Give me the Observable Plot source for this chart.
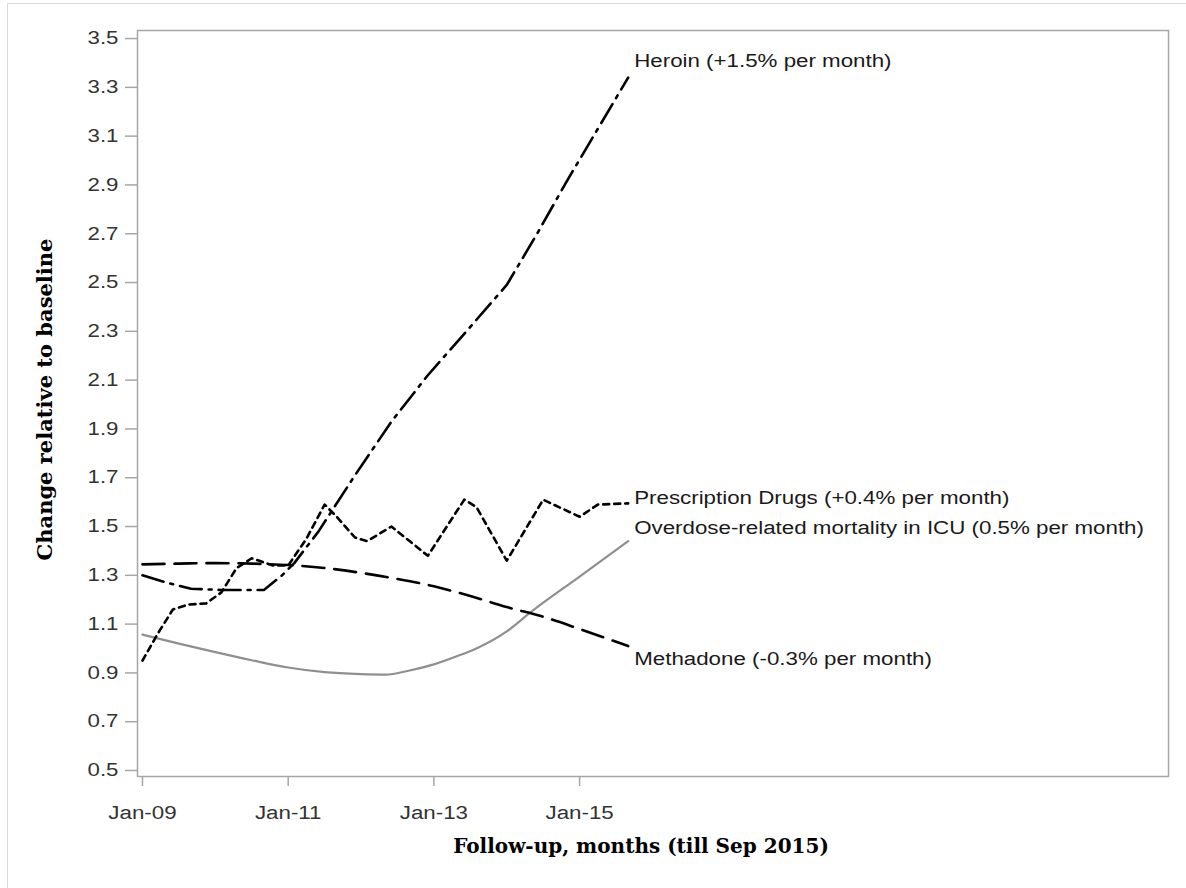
<!DOCTYPE html>
<html><head><meta charset="utf-8">
<script src="https://cdn.jsdelivr.net/npm/d3@7"></script>
<script src="https://cdn.jsdelivr.net/npm/@observablehq/plot@0.6"></script>
<style>
body{margin:0;background:#fff;}
#wrap{position:relative;width:1186px;height:888px;overflow:hidden;background:#fff}
#border{position:absolute;left:7px;top:3px;right:-2px;bottom:-2px;border-left:1px solid #d9d9d9;border-top:1px solid #d9d9d9;pointer-events:none}
#chart{position:absolute;left:0;top:0}
</style></head><body><div id="wrap"><div id="chart"></div><div id="border"></div></div>
<script>
// Months since Jan 2009
const tickMonths = [0, 24, 48, 72];
const tickLabels = ["Jan-09", "Jan-11", "Jan-13", "Jan-15"];
const yTicks = [0.5, 0.7, 0.9, 1.1, 1.3, 1.5, 1.7, 1.9, 2.1, 2.3, 2.5, 2.7, 2.9, 3.1, 3.3, 3.5];

const heroinMonths = [0, 4, 8, 13, 20, 23, 25, 29, 35, 41, 47, 53, 60, 65, 70, 75, 80];
const heroinValues = [1.30, 1.27, 1.245, 1.24, 1.24, 1.30, 1.35, 1.48, 1.71, 1.93, 2.12, 2.29, 2.49, 2.70, 2.92, 3.13, 3.34];

const rxMonths = [0, 2.5, 5, 7.5, 10.5, 13, 15.5, 18, 21.5, 24, 27, 30, 32, 35, 37, 41, 47, 53, 55, 60, 66, 72, 75, 80];
const rxValues = [0.95, 1.06, 1.16, 1.18, 1.185, 1.23, 1.33, 1.37, 1.34, 1.34, 1.45, 1.59, 1.54, 1.455, 1.44, 1.50, 1.38, 1.61, 1.58, 1.36, 1.61, 1.54, 1.59, 1.595];

const icuMonths = [0, 6, 12, 18, 24, 30, 36, 40, 44, 48, 52, 55, 60, 64, 72, 80];
const icuValues = [1.057, 1.02, 0.985, 0.952, 0.922, 0.903, 0.895, 0.893, 0.91, 0.935, 0.97, 1.00, 1.07, 1.15, 1.295, 1.44];

const methMonths = [0, 6, 12, 18, 24, 30, 36, 42, 48, 54, 60, 66, 72, 80];
const methValues = [1.345, 1.348, 1.35, 1.348, 1.342, 1.33, 1.31, 1.285, 1.255, 1.215, 1.17, 1.13, 1.08, 1.01];

const seriesLabels = {
  heroin: "Heroin (+1.5% per month)",
  rx: "Prescription Drugs (+0.4% per month)",
  icu: "Overdose-related mortality in ICU (0.5% per month)",
  meth: "Methadone (-0.3% per month)"
};
const xTitle = "Follow-up, months (till Sep 2015)";
const yTitle = "Change relative to baseline";

const toRows = (ms, vs) => ms.map((m, i) => ({month: m, value: vs[i]}));
const heroin = toRows(heroinMonths, heroinValues);
const rx = toRows(rxMonths, rxValues);
const icu = toRows(icuMonths, icuValues);
const meth = toRows(methMonths, methValues);
const lastOf = (rows, key) => [{...rows[rows.length - 1], label: seriesLabels[key]}];

const sans = "'Liberation Sans', Arial, sans-serif";
const serif = "'DejaVu Serif', serif";
const labelOpts = (dy) => ({x: "month", y: "value", text: "label", textAnchor: "start", dx: 6, dy, fill: "#1a1a1a", fontSize: 18, fontFamily: sans});

const chart = Plot.plot({
  width: 1186, height: 888,
  marginLeft: 137, marginRight: 18, marginTop: 30, marginBottom: 112,
  style: {fontFamily: sans, fontSize: "18px", background: "transparent", color: "#333"},
  x: {type: "linear", domain: [-0.82, 169]},
  y: {domain: [0.4754, 3.533]},
  marks: [
    Plot.frame({stroke: "#a6a6a6", strokeWidth: 1.5}),
    Plot.axisX({ticks: tickMonths, tickFormat: d => tickLabels[tickMonths.indexOf(d)], tickSize: 10, tickPadding: 20, stroke: "#a6a6a6", strokeWidth: 1.5, fill: "#333", label: null, fontSize: 18}),
    Plot.axisY({ticks: yTicks, tickFormat: d => d.toFixed(1), tickSize: 12, tickPadding: 7, stroke: "#a6a6a6", strokeWidth: 1.5, fill: "#333", label: null, fontSize: 18}),
    Plot.line(icu, {x: "month", y: "value", stroke: "#8f8f8f", strokeWidth: 2.2, curve: "monotone-x"}),
    Plot.line(meth, {x: "month", y: "value", stroke: "#000", strokeWidth: 2.6, strokeDasharray: "22,10", curve: "monotone-x"}),
    Plot.line(rx, {x: "month", y: "value", stroke: "#000", strokeWidth: 2.6, strokeDasharray: "6,5"}),
    Plot.line(heroin, {x: "month", y: "value", stroke: "#000", strokeWidth: 2.6, strokeDasharray: "22,7,3,7"}),
    Plot.text(lastOf(heroin, "heroin"), labelOpts(-16)),
    Plot.text(lastOf(rx, "rx"), labelOpts(-5)),
    Plot.text(lastOf(icu, "icu"), labelOpts(-13)),
    Plot.text(lastOf(meth, "meth"), labelOpts(13)),
    Plot.text([xTitle], {frameAnchor: "bottom", textAnchor: "middle", lineAnchor: "middle", dy: 70, dx: -12, fontFamily: serif, fontWeight: "bold", fontSize: 20, fill: "#000"}),
    Plot.text([yTitle], {frameAnchor: "left", textAnchor: "middle", lineAnchor: "middle", rotate: -90, dx: -92, dy: -4, fontFamily: serif, fontWeight: "bold", fontSize: 21, fill: "#000"})
  ]
});
document.getElementById("chart").appendChild(chart);

// the reference's sans text is drawn horizontally wide; widen it to match
chart.querySelectorAll("text").forEach(t => {
  const ff = getComputedStyle(t).fontFamily || "";
  if (ff.includes("Serif")) return;
  const L = t.getComputedTextLength();
  if (L > 0) {
    t.setAttribute("textLength", (L * 1.24).toFixed(1));
    t.setAttribute("lengthAdjust", "spacingAndGlyphs");
  }
});
</script>
</body></html>
